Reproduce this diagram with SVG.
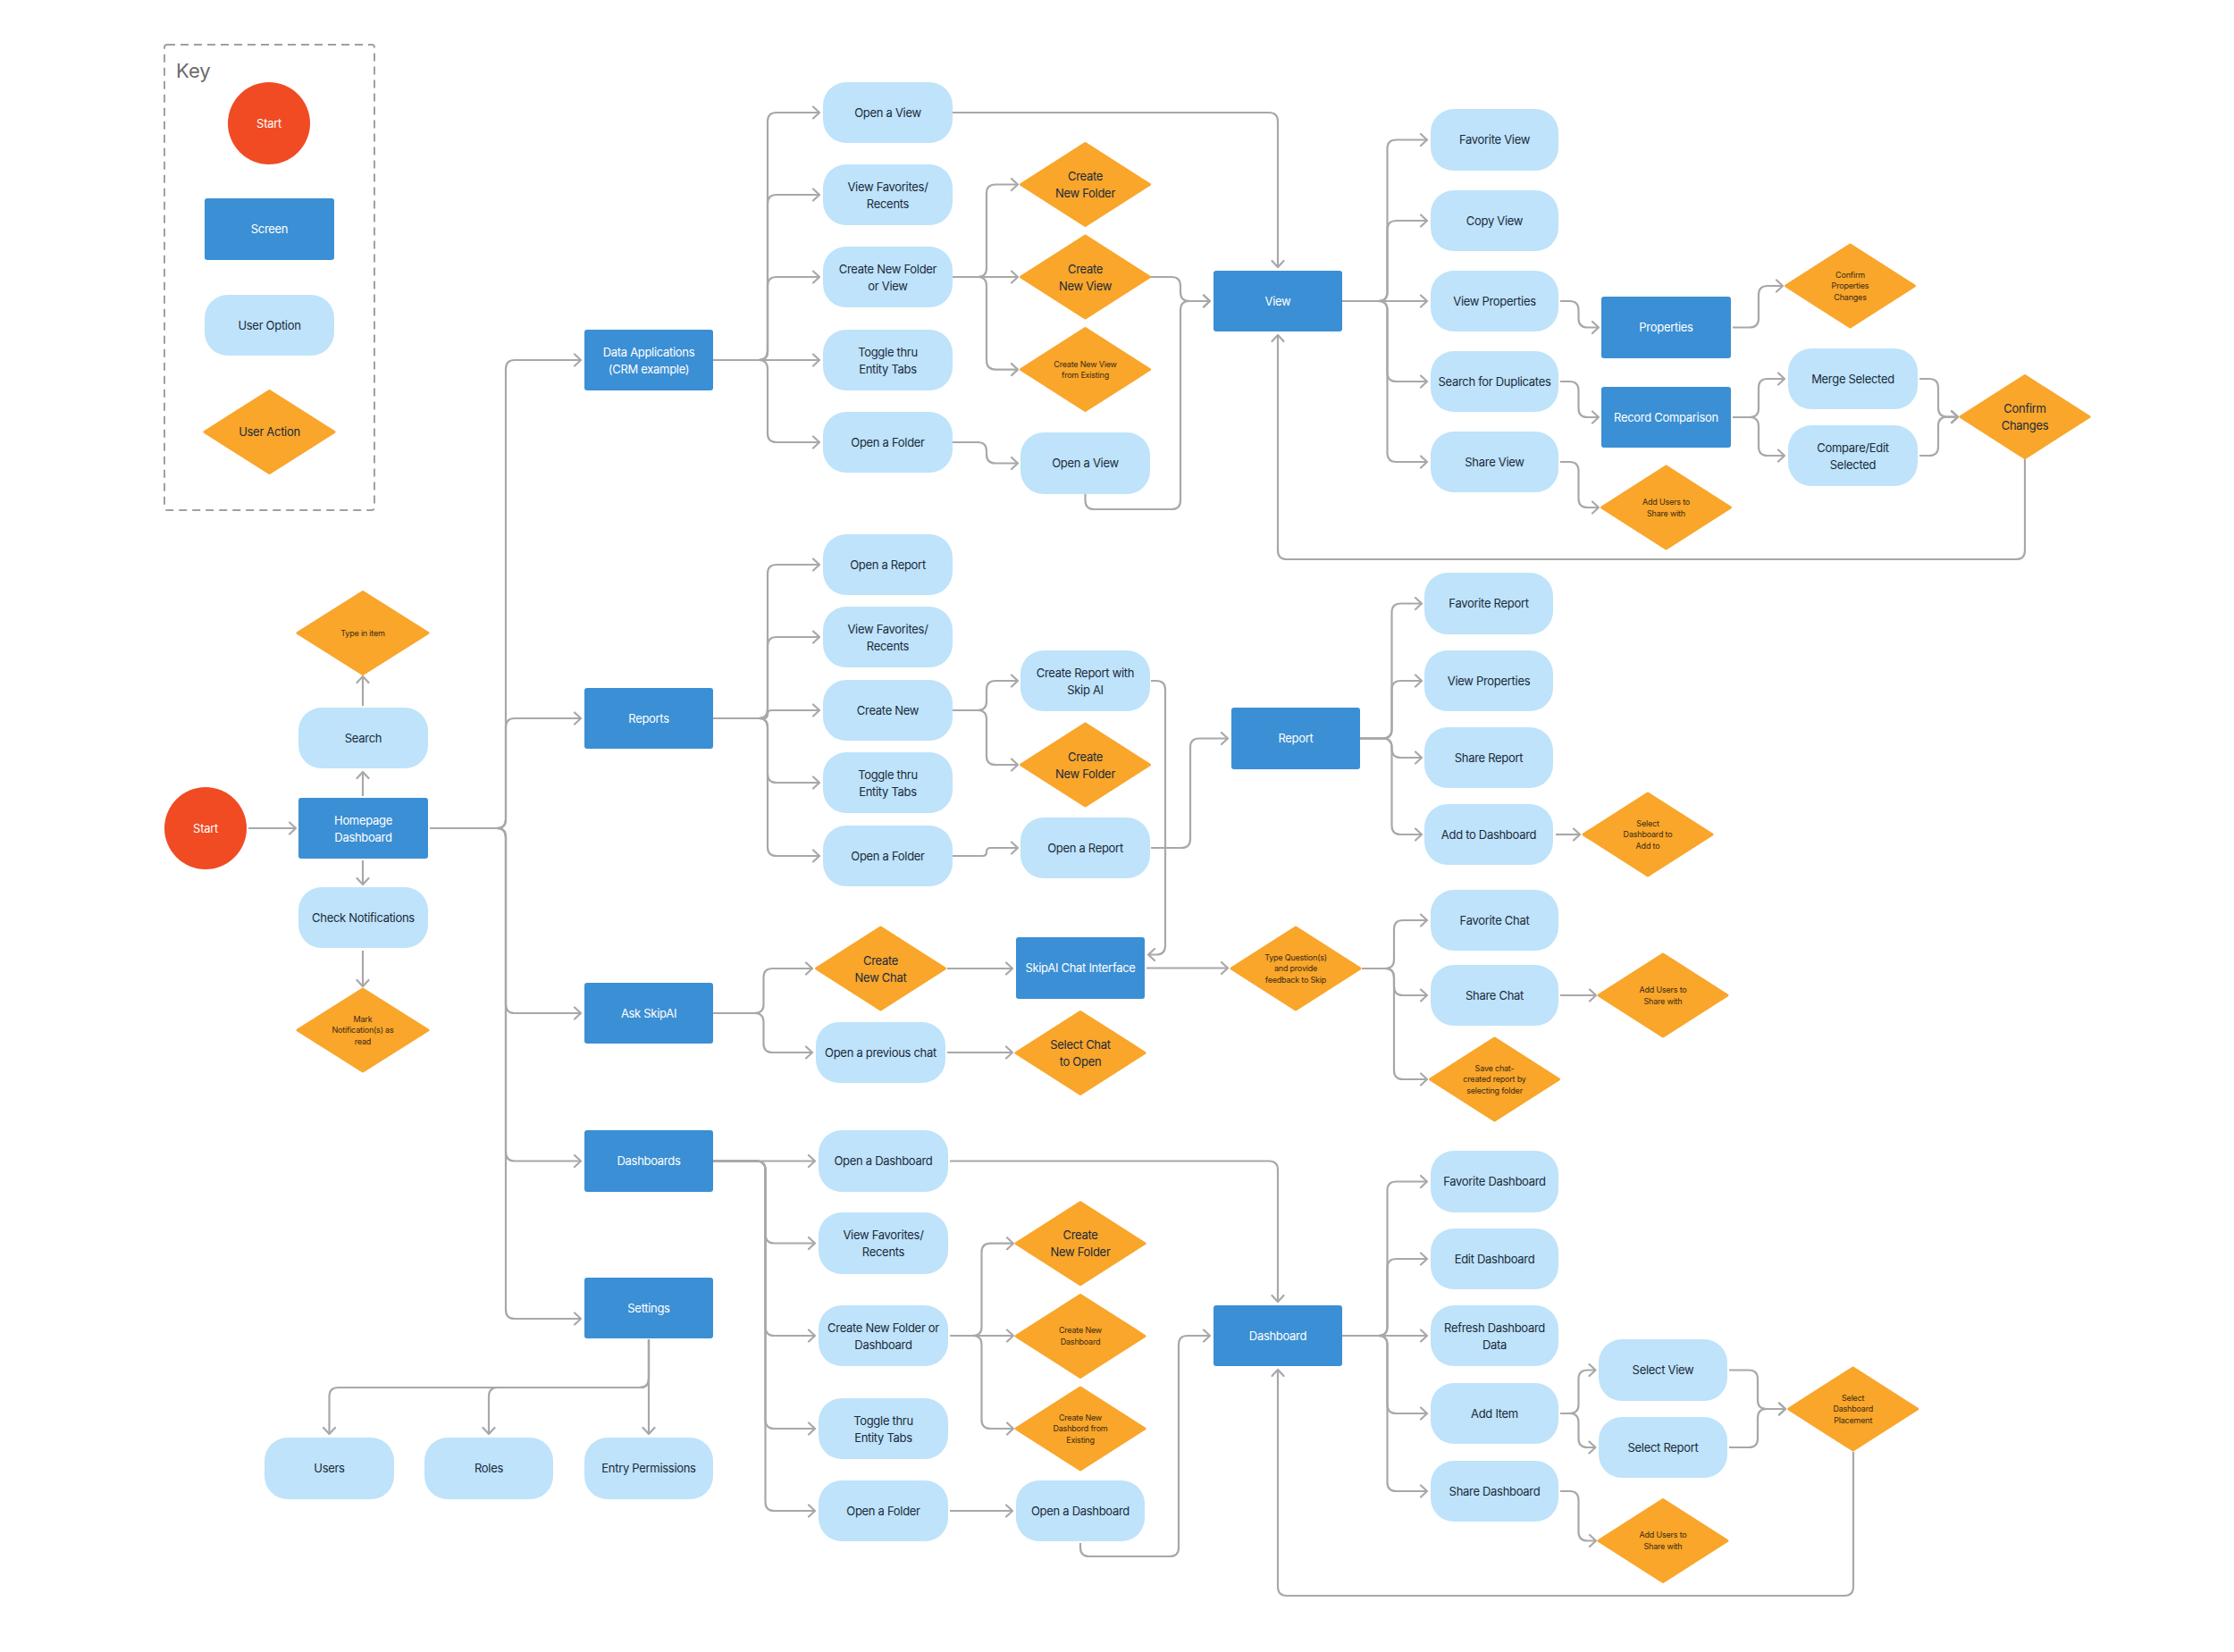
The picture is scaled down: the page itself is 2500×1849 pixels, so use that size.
<svg xmlns="http://www.w3.org/2000/svg" width="2500" height="1849" viewBox="0 0 2500 1849">
<defs>
<style>
.o{fill:#BEE3FA}
.s{fill:#3B8FD4}
.d{fill:#F9A62B;stroke:#F9A62B;stroke-width:3;stroke-linejoin:round}
.st{fill:#F04B23}
.t{font-family:Inter,"Noto Sans",sans-serif;font-size:13px;fill:#1B2A3A;text-anchor:middle;letter-spacing:-0.3px}
.tw{fill:#FFFFFF}
.ts{font-size:9px;letter-spacing:-0.2px;fill:#3A2A10}
.c{fill:none;stroke:#A8A8A8;stroke-width:2.2;marker-end:url(#a)}
</style>
<marker id="a" viewBox="-10 -8 12 16" refX="0" refY="0" markerWidth="12" markerHeight="16" markerUnits="userSpaceOnUse" orient="auto"><path d="M-7,-6.5 L0,0 L-7,6.5" fill="none" stroke="#A8A8A8" stroke-width="2.2" stroke-linecap="round" stroke-linejoin="round"/></marker>
</defs>
<rect width="2500" height="1849" fill="#FFFFFF"/>

<g id="key">
<rect x="184" y="50" width="235" height="521" rx="3" fill="none" stroke="#A0A0A0" stroke-width="2" stroke-dasharray="9 6"/>
<text x="197" y="87" style="font-family:Inter,'Noto Sans',sans-serif;font-size:22px;fill:#6B6B6B">Key</text>
<circle class="st" cx="301" cy="138" r="46"/><text class="t tw" x="301" y="142.5">Start</text>
<rect class="s" x="229" y="222" width="145" height="69" rx="3"/><text class="t tw" x="301.5" y="261">Screen</text>
<rect class="o" x="229" y="330" width="145" height="68" rx="26"/><text class="t" x="301.5" y="368.5">User Option</text>
<polygon class="d" points="229,483.5 301.5,437.5 374,483.5 301.5,529.5"/><text class="t" x="301.5" y="488">User Action</text>
</g>

<g id="connectors">
<path class="c" d="M278,927 H331"/>
<path class="c" d="M406,891 V864"/>
<path class="c" d="M406,790 V757"/>
<path class="c" d="M406,963 V990"/>
<path class="c" d="M406,1064 V1104"/>
<path class="c" d="M481,927 H556 Q566,927 566,917 V413 Q566,403 576,403 H650"/>
<path class="c" d="M481,927 H556 Q566,927 566,917 V814 Q566,804 576,804 H650"/>
<path class="c" d="M481,927 H556 Q566,927 566,937 V1124 Q566,1134 576,1134 H650"/>
<path class="c" d="M481,927 H556 Q566,927 566,937 V1289.5 Q566,1299.5 576,1299.5 H650"/>
<path class="c" d="M481,927 H556 Q566,927 566,937 V1466 Q566,1476 576,1476 H650"/>
<path class="c" d="M726,1499 V1605"/>
<path class="c" d="M726,1499 V1543 Q726,1553 716,1553 H378.5 Q368.5,1553 368.5,1563 V1605"/>
<path class="c" d="M726,1499 V1543 Q726,1553 716,1553 H557 Q547,1553 547,1563 V1605"/>

<path class="c" d="M798,403 H849 Q859,403 859,393 V136 Q859,126 869,126 H917"/>
<path class="c" d="M798,403 H849 Q859,403 859,393 V228 Q859,218 869,218 H917"/>
<path class="c" d="M798,403 H849 Q859,403 859,393 V320 Q859,310 869,310 H917"/>
<path class="c" d="M798,403 H917"/>
<path class="c" d="M798,403 H849 Q859,403 859,413 V485 Q859,495 869,495 H917"/>
<path class="c" d="M1066,310 H1094 Q1104,310 1104,300 V216.5 Q1104,206.5 1114,206.5 H1139"/>
<path class="c" d="M1066,310 H1139"/>
<path class="c" d="M1066,310 H1094 Q1104,310 1104,320 V403.6 Q1104,413.6 1114,413.6 H1139"/>
<path class="c" d="M1066,495 H1094 Q1104,495 1104,505 V508.5 Q1104,518.5 1114,518.5 H1139"/>
<path class="c" d="M1287,310 H1311 Q1321,310 1321,320 V327 Q1321,337 1331,337 H1354"/>
<path class="c" d="M1214.5,553 V560 Q1214.5,570 1224.5,570 H1311 Q1321,570 1321,560 V347 Q1321,337 1331,337 H1354"/>
<path class="c" d="M1066,126 H1420 Q1430,126 1430,136 V299"/>
<path class="c" d="M2266,513 V616 Q2266,626 2256,626 H1440 Q1430,626 1430,616 V375"/>
<path class="c" d="M1502,337 H1542.5 Q1552.5,337 1552.5,327 V166.5 Q1552.5,156.5 1562.5,156.5 H1597"/>
<path class="c" d="M1502,337 H1542.5 Q1552.5,337 1552.5,327 V257 Q1552.5,247 1562.5,247 H1597"/>
<path class="c" d="M1502,337 H1597"/>
<path class="c" d="M1502,337 H1542.5 Q1552.5,337 1552.5,347 V417 Q1552.5,427 1562.5,427 H1597"/>
<path class="c" d="M1502,337 H1542.5 Q1552.5,337 1552.5,347 V507 Q1552.5,517 1562.5,517 H1597"/>
<path class="c" d="M1746,337 H1756.5 Q1766.5,337 1766.5,347 V356.5 Q1766.5,366.5 1776.5,366.5 H1789"/>
<path class="c" d="M1746,427 H1756.5 Q1766.5,427 1766.5,437 V457 Q1766.5,467 1776.5,467 H1789"/>
<path class="c" d="M1746,517 H1756.5 Q1766.5,517 1766.5,527 V558 Q1766.5,568 1776.5,568 H1789"/>
<path class="c" d="M1939,366.5 H1958 Q1968,366.5 1968,356.5 V330 Q1968,320 1978,320 H1995"/>
<path class="c" d="M1939,467 H1958 Q1968,467 1968,457 V434 Q1968,424 1978,424 H1997"/>
<path class="c" d="M1939,467 H1958 Q1968,467 1968,477 V500 Q1968,510 1978,510 H1997"/>
<path class="c" d="M2148,424 H2159 Q2169,424 2169,434 V456.6 Q2169,466.6 2179,466.6 H2191"/>
<path class="c" d="M2148,510 H2159 Q2169,510 2169,500 V476.6 Q2169,466.6 2179,466.6 H2191"/>

<path class="c" d="M798,804 H849 Q859,804 859,794 V642 Q859,632 869,632 H917"/>
<path class="c" d="M798,804 H849 Q859,804 859,794 V723 Q859,713 869,713 H917"/>
<path class="c" d="M798,804 H854.5 Q859,804 859,799.5 Q859,795 863.5,795 H917"/>
<path class="c" d="M798,804 H849 Q859,804 859,814 V866 Q859,876 869,876 H917"/>
<path class="c" d="M798,804 H849 Q859,804 859,814 V948 Q859,958 869,958 H917"/>
<path class="c" d="M1066,795 H1094 Q1104,795 1104,785 V772 Q1104,762 1114,762 H1139"/>
<path class="c" d="M1066,795 H1094 Q1104,795 1104,805 V846 Q1104,856 1114,856 H1139"/>
<path class="c" d="M1066,958 H1099.5 Q1104,958 1104,953.5 Q1104,949 1108.5,949 H1139"/>
<path class="c" d="M1288,949 H1322 Q1332,949 1332,939 V836.5 Q1332,826.5 1342,826.5 H1374"/>
<path class="c" d="M1288,762 H1294 Q1304,762 1304,772 V1058.5 Q1304,1068.5 1294,1068.5 H1285"/>
<path class="c" d="M1522,826.5 H1547.5 Q1557.5,826.5 1557.5,816.5 V685.5 Q1557.5,675.5 1567.5,675.5 H1591"/>
<path class="c" d="M1522,826.5 H1547.5 Q1557.5,826.5 1557.5,816.5 V772 Q1557.5,762 1567.5,762 H1591"/>
<path class="c" d="M1522,826.5 H1547.5 Q1557.5,826.5 1557.5,836.5 V838 Q1557.5,848 1567.5,848 H1591"/>
<path class="c" d="M1522,826.5 H1547.5 Q1557.5,826.5 1557.5,836.5 V924 Q1557.5,934 1567.5,934 H1591"/>
<path class="c" d="M1741,934 H1768"/>

<path class="c" d="M798,1134 H844.5 Q854.5,1134 854.5,1124 V1094 Q854.5,1084 864.5,1084 H909"/>
<path class="c" d="M798,1134 H844.5 Q854.5,1134 854.5,1144 V1168 Q854.5,1178 864.5,1178 H909"/>
<path class="c" d="M1060,1084 H1133"/>
<path class="c" d="M1060,1178 H1133"/>
<path class="c" d="M1283,1083.5 H1374"/>
<path class="c" d="M1524,1084 H1550 Q1560,1084 1560,1074 V1040 Q1560,1030 1570,1030 H1597"/>
<path class="c" d="M1524,1084 H1550 Q1560,1084 1560,1094 V1104 Q1560,1114 1570,1114 H1597"/>
<path class="c" d="M1524,1084 H1550 Q1560,1084 1560,1094 V1198 Q1560,1208 1570,1208 H1597"/>
<path class="c" d="M1746,1114 H1786"/>

<path class="c" d="M798,1299.5 H912"/>
<path class="c" d="M798,1299.5 H846.5 Q856.5,1299.5 856.5,1309.5 V1381.5 Q856.5,1391.5 866.5,1391.5 H912"/>
<path class="c" d="M798,1299.5 H846.5 Q856.5,1299.5 856.5,1309.5 V1485 Q856.5,1495 866.5,1495 H912"/>
<path class="c" d="M798,1299.5 H846.5 Q856.5,1299.5 856.5,1309.5 V1589 Q856.5,1599 866.5,1599 H912"/>
<path class="c" d="M798,1299.5 H846.5 Q856.5,1299.5 856.5,1309.5 V1681 Q856.5,1691 866.5,1691 H912"/>
<path class="c" d="M1063,1495 H1088.5 Q1098.5,1495 1098.5,1485 V1401.7 Q1098.5,1391.7 1108.5,1391.7 H1134"/>
<path class="c" d="M1063,1495 H1134"/>
<path class="c" d="M1063,1495 H1088.5 Q1098.5,1495 1098.5,1505 V1589 Q1098.5,1599 1108.5,1599 H1134"/>
<path class="c" d="M1063,1691 H1133"/>
<path class="c" d="M1209,1727 V1732 Q1209,1742 1219,1742 H1309 Q1319,1742 1319,1732 V1505 Q1319,1495 1329,1495 H1354"/>
<path class="c" d="M1063,1299.5 H1420 Q1430,1299.5 1430,1309.5 V1457"/>
<path class="c" d="M1502,1495 H1542.5 Q1552.5,1495 1552.5,1485 V1332.5 Q1552.5,1322.5 1562.5,1322.5 H1597"/>
<path class="c" d="M1502,1495 H1542.5 Q1552.5,1495 1552.5,1485 V1419 Q1552.5,1409 1562.5,1409 H1597"/>
<path class="c" d="M1502,1495 H1597"/>
<path class="c" d="M1502,1495 H1542.5 Q1552.5,1495 1552.5,1505 V1572 Q1552.5,1582 1562.5,1582 H1597"/>
<path class="c" d="M1502,1495 H1542.5 Q1552.5,1495 1552.5,1505 V1659 Q1552.5,1669 1562.5,1669 H1597"/>
<path class="c" d="M1746,1582 H1756.5 Q1766.5,1582 1766.5,1572 V1543.5 Q1766.5,1533.5 1776.5,1533.5 H1785.5"/>
<path class="c" d="M1746,1582 H1756.5 Q1766.5,1582 1766.5,1592 V1610 Q1766.5,1620 1776.5,1620 H1785.5"/>
<path class="c" d="M1935,1533.5 H1957 Q1967,1533.5 1967,1543.5 V1567 Q1967,1577 1977,1577 H1998"/>
<path class="c" d="M1935,1620 H1957 Q1967,1620 1967,1610 V1587 Q1967,1577 1977,1577 H1998"/>
<path class="c" d="M1746,1669 H1756.5 Q1766.5,1669 1766.5,1679 V1714.5 Q1766.5,1724.5 1776.5,1724.5 H1786"/>
<path class="c" d="M2074,1625 V1776 Q2074,1786 2064,1786 H1440 Q1430,1786 1430,1776 V1533"/>
</g>

<g id="start"><circle class="st" cx="230" cy="927" r="46"/><text class="t tw" x="230" y="931.5">Start</text></g>
<g id="homepage"><rect class="s" x="334" y="893" width="145" height="68" rx="3"/><text class="t tw" x="406.5" y="922.5"><tspan x="406.5">Homepage</tspan><tspan x="406.5" dy="19">Dashboard</tspan></text></g>
<g id="search"><rect class="o" x="334" y="792" width="145" height="68" rx="26"/><text class="t" x="406.5" y="830.5">Search</text></g>
<g id="type-in-item"><polygon class="d" points="333,708.5 406,662.5 479,708.5 406,754.5"/><text class="t ts" x="406" y="711.7">Type in item</text></g>
<g id="check-notifications"><rect class="o" x="334" y="993" width="145" height="68" rx="26"/><text class="t" x="406.5" y="1031.5">Check Notifications</text></g>
<g id="mark-read"><polygon class="d" points="333,1153 406,1107 479,1153 406,1199"/><text class="t ts" x="406" y="1143.6"><tspan x="406">Mark</tspan><tspan x="406" dy="12.6">Notification(s) as</tspan><tspan x="406" dy="12.6">read</tspan></text></g>

<g id="data-applications"><rect class="s" x="654" y="369" width="144" height="68" rx="3"/><text class="t tw" x="726" y="398.5"><tspan x="726">Data Applications</tspan><tspan x="726" dy="19">(CRM example)</tspan></text></g>
<g id="reports"><rect class="s" x="654" y="770" width="144" height="68" rx="3"/><text class="t tw" x="726" y="808.5">Reports</text></g>
<g id="ask-skipai"><rect class="s" x="654" y="1100" width="144" height="68" rx="3"/><text class="t tw" x="726" y="1138.5">Ask SkipAI</text></g>
<g id="dashboards"><rect class="s" x="654" y="1265" width="144" height="69" rx="3"/><text class="t tw" x="726" y="1304">Dashboards</text></g>
<g id="settings"><rect class="s" x="654" y="1430" width="144" height="68" rx="3"/><text class="t tw" x="726" y="1468.5">Settings</text></g>
<g id="users"><rect class="o" x="296" y="1609" width="145" height="69" rx="26"/><text class="t" x="368.5" y="1648">Users</text></g>
<g id="roles"><rect class="o" x="475" y="1609" width="144" height="69" rx="26"/><text class="t" x="547" y="1648">Roles</text></g>
<g id="entry-permissions"><rect class="o" x="654" y="1609" width="144" height="69" rx="26"/><text class="t" x="726" y="1648">Entry Permissions</text></g>

<g id="da-open-view"><rect class="o" x="921" y="92" width="145" height="68" rx="26"/><text class="t" x="993.5" y="130.5">Open a View</text></g>
<g id="da-favorites"><rect class="o" x="921" y="184" width="145" height="68" rx="26"/><text class="t" x="993.5" y="213.5"><tspan x="993.5">View Favorites/</tspan><tspan x="993.5" dy="19">Recents</tspan></text></g>
<g id="da-create"><rect class="o" x="921" y="276" width="145" height="68" rx="26"/><text class="t" x="993.5" y="305.5"><tspan x="993.5">Create New Folder</tspan><tspan x="993.5" dy="19">or View</tspan></text></g>
<g id="da-toggle"><rect class="o" x="921" y="369" width="145" height="68" rx="26"/><text class="t" x="993.5" y="398.5"><tspan x="993.5">Toggle thru</tspan><tspan x="993.5" dy="19">Entity Tabs</tspan></text></g>
<g id="da-open-folder"><rect class="o" x="921" y="461" width="145" height="68" rx="26"/><text class="t" x="993.5" y="499.5">Open a Folder</text></g>
<g id="da-new-folder"><polygon class="d" points="1142.5,206.5 1214.5,160.5 1286.5,206.5 1214.5,252.5"/><text class="t" x="1214.5" y="202"><tspan x="1214.5">Create</tspan><tspan x="1214.5" dy="19">New Folder</tspan></text></g>
<g id="da-new-view"><polygon class="d" points="1142.5,310 1214.5,264 1286.5,310 1214.5,356"/><text class="t" x="1214.5" y="305.5"><tspan x="1214.5">Create</tspan><tspan x="1214.5" dy="19">New View</tspan></text></g>
<g id="da-new-view-existing"><polygon class="d" points="1142.5,413.6 1214.5,367.6 1286.5,413.6 1214.5,459.6"/><text class="t ts" x="1214.5" y="410.5"><tspan x="1214.5">Create New View</tspan><tspan x="1214.5" dy="12.6">from Existing</tspan></text></g>
<g id="da-open-view-2"><rect class="o" x="1142" y="484" width="145" height="69" rx="26"/><text class="t" x="1214.5" y="523">Open a View</text></g>
<g id="view"><rect class="s" x="1358" y="303" width="144" height="68" rx="3"/><text class="t tw" x="1430" y="341.5">View</text></g>

<g id="favorite-view"><rect class="o" x="1601" y="122" width="143" height="69" rx="26"/><text class="t" x="1672.5" y="161">Favorite View</text></g>
<g id="copy-view"><rect class="o" x="1601" y="213" width="143" height="68" rx="26"/><text class="t" x="1672.5" y="251.5">Copy View</text></g>
<g id="view-properties"><rect class="o" x="1601" y="303" width="143" height="68" rx="26"/><text class="t" x="1672.5" y="341.5">View Properties</text></g>
<g id="search-duplicates"><rect class="o" x="1601" y="393" width="143" height="68" rx="26"/><text class="t" x="1672.5" y="431.5">Search for Duplicates</text></g>
<g id="share-view"><rect class="o" x="1601" y="483" width="143" height="68" rx="26"/><text class="t" x="1672.5" y="521.5">Share View</text></g>
<g id="properties"><rect class="s" x="1792" y="332" width="145" height="69" rx="3"/><text class="t tw" x="1864.5" y="371">Properties</text></g>
<g id="record-comparison"><rect class="s" x="1792" y="433" width="145" height="68" rx="3"/><text class="t tw" x="1864.5" y="471.5">Record Comparison</text></g>
<g id="confirm-properties"><polygon class="d" points="1998.5,320 2070.5,274 2142.5,320 2070.5,366"/><text class="t ts" x="2070.5" y="310.6"><tspan x="2070.5">Confirm</tspan><tspan x="2070.5" dy="12.6">Properties</tspan><tspan x="2070.5" dy="12.6">Changes</tspan></text></g>
<g id="merge-selected"><rect class="o" x="2001" y="390" width="145" height="68" rx="26"/><text class="t" x="2073.5" y="428.5">Merge Selected</text></g>
<g id="compare-edit"><rect class="o" x="2001" y="476" width="145" height="68" rx="26"/><text class="t" x="2073.5" y="505.5"><tspan x="2073.5">Compare/Edit</tspan><tspan x="2073.5" dy="19">Selected</tspan></text></g>
<g id="confirm-changes"><polygon class="d" points="2194,466.6 2266,420.6 2338,466.6 2266,512.6"/><text class="t" x="2266" y="462"><tspan x="2266">Confirm</tspan><tspan x="2266" dy="19">Changes</tspan></text></g>
<g id="view-add-users"><polygon class="d" points="1792.5,568 1864.5,522 1936.5,568 1864.5,614"/><text class="t ts" x="1864.5" y="564.9"><tspan x="1864.5">Add Users to</tspan><tspan x="1864.5" dy="12.6">Share with</tspan></text></g>

<g id="rp-open-report"><rect class="o" x="921" y="598" width="145" height="68" rx="26"/><text class="t" x="993.5" y="636.5">Open a Report</text></g>
<g id="rp-favorites"><rect class="o" x="921" y="679" width="145" height="68" rx="26"/><text class="t" x="993.5" y="708.5"><tspan x="993.5">View Favorites/</tspan><tspan x="993.5" dy="19">Recents</tspan></text></g>
<g id="rp-create-new"><rect class="o" x="921" y="761" width="145" height="68" rx="26"/><text class="t" x="993.5" y="799.5">Create New</text></g>
<g id="rp-toggle"><rect class="o" x="921" y="842" width="145" height="68" rx="26"/><text class="t" x="993.5" y="871.5"><tspan x="993.5">Toggle thru</tspan><tspan x="993.5" dy="19">Entity Tabs</tspan></text></g>
<g id="rp-open-folder"><rect class="o" x="921" y="924" width="145" height="68" rx="26"/><text class="t" x="993.5" y="962.5">Open a Folder</text></g>
<g id="rp-skip-ai"><rect class="o" x="1142" y="728" width="145" height="68" rx="26"/><text class="t" x="1214.5" y="757.5"><tspan x="1214.5">Create Report with</tspan><tspan x="1214.5" dy="19">Skip AI</tspan></text></g>
<g id="rp-new-folder"><polygon class="d" points="1142.5,856 1214.5,810 1286.5,856 1214.5,902"/><text class="t" x="1214.5" y="851.5"><tspan x="1214.5">Create</tspan><tspan x="1214.5" dy="19">New Folder</tspan></text></g>
<g id="rp-open-report-2"><rect class="o" x="1142" y="915" width="145" height="68" rx="26"/><text class="t" x="1214.5" y="953.5">Open a Report</text></g>
<g id="report"><rect class="s" x="1378" y="792" width="144" height="69" rx="3"/><text class="t tw" x="1450" y="831">Report</text></g>
<g id="favorite-report"><rect class="o" x="1594" y="641" width="144" height="69" rx="26"/><text class="t" x="1666" y="680">Favorite Report</text></g>
<g id="report-properties"><rect class="o" x="1594" y="728" width="144" height="68" rx="26"/><text class="t" x="1666" y="766.5">View Properties</text></g>
<g id="share-report"><rect class="o" x="1594" y="814" width="144" height="68" rx="26"/><text class="t" x="1666" y="852.5">Share Report</text></g>
<g id="add-to-dashboard"><rect class="o" x="1594" y="900" width="144" height="68" rx="26"/><text class="t" x="1666" y="938.5">Add to Dashboard</text></g>
<g id="select-dashboard-add"><polygon class="d" points="1772,934 1844,888 1916,934 1844,980"/><text class="t ts" x="1844" y="924.6"><tspan x="1844">Select</tspan><tspan x="1844" dy="12.6">Dashboard to</tspan><tspan x="1844" dy="12.6">Add to</tspan></text></g>

<g id="create-new-chat"><polygon class="d" points="913.5,1084 985.5,1038 1057.5,1084 985.5,1130"/><text class="t" x="985.5" y="1079.5"><tspan x="985.5">Create</tspan><tspan x="985.5" dy="19">New Chat</tspan></text></g>
<g id="open-previous-chat"><rect class="o" x="913" y="1144" width="145" height="68" rx="26"/><text class="t" x="985.5" y="1182.5">Open a previous chat</text></g>
<g id="skipai-chat"><rect class="s" x="1137" y="1049" width="144" height="69" rx="3"/><text class="t tw" x="1209" y="1088">SkipAI Chat Interface</text></g>
<g id="select-chat"><polygon class="d" points="1137,1178.4 1209,1132.4 1281,1178.4 1209,1224.4"/><text class="t" x="1209" y="1173.9"><tspan x="1209">Select Chat</tspan><tspan x="1209" dy="19">to Open</tspan></text></g>
<g id="type-question"><polygon class="d" points="1378,1084 1450,1038 1522,1084 1450,1130"/><text class="t ts" x="1450" y="1074.6"><tspan x="1450">Type Question(s)</tspan><tspan x="1450" dy="12.6">and provide</tspan><tspan x="1450" dy="12.6">feedback to Skip</tspan></text></g>
<g id="favorite-chat"><rect class="o" x="1601" y="996" width="143" height="68" rx="26"/><text class="t" x="1672.5" y="1034.5">Favorite Chat</text></g>
<g id="share-chat"><rect class="o" x="1601" y="1080" width="143" height="68" rx="26"/><text class="t" x="1672.5" y="1118.5">Share Chat</text></g>
<g id="save-chat-report"><polygon class="d" points="1600.5,1208 1672.5,1162 1744.5,1208 1672.5,1254"/><text class="t ts" x="1672.5" y="1198.6"><tspan x="1672.5">Save chat-</tspan><tspan x="1672.5" dy="12.6">created report by</tspan><tspan x="1672.5" dy="12.6">selecting folder</tspan></text></g>
<g id="chat-add-users"><polygon class="d" points="1789,1114 1861,1068 1933,1114 1861,1160"/><text class="t ts" x="1861" y="1110.9"><tspan x="1861">Add Users to</tspan><tspan x="1861" dy="12.6">Share with</tspan></text></g>

<g id="db-open-dashboard"><rect class="o" x="916" y="1265" width="145" height="69" rx="26"/><text class="t" x="988.5" y="1304">Open a Dashboard</text></g>
<g id="db-favorites"><rect class="o" x="916" y="1357" width="145" height="69" rx="26"/><text class="t" x="988.5" y="1387"><tspan x="988.5">View Favorites/</tspan><tspan x="988.5" dy="19">Recents</tspan></text></g>
<g id="db-create"><rect class="o" x="916" y="1461" width="145" height="68" rx="26"/><text class="t" x="988.5" y="1490.5"><tspan x="988.5">Create New Folder or</tspan><tspan x="988.5" dy="19">Dashboard</tspan></text></g>
<g id="db-toggle"><rect class="o" x="916" y="1565" width="145" height="68" rx="26"/><text class="t" x="988.5" y="1594.5"><tspan x="988.5">Toggle thru</tspan><tspan x="988.5" dy="19">Entity Tabs</tspan></text></g>
<g id="db-open-folder"><rect class="o" x="916" y="1657" width="145" height="68" rx="26"/><text class="t" x="988.5" y="1695.5">Open a Folder</text></g>
<g id="db-new-folder"><polygon class="d" points="1137,1391.7 1209,1345.7 1281,1391.7 1209,1437.7"/><text class="t" x="1209" y="1387.2"><tspan x="1209">Create</tspan><tspan x="1209" dy="19">New Folder</tspan></text></g>
<g id="db-new-dashboard"><polygon class="d" points="1137,1495.4 1209,1449.4 1281,1495.4 1209,1541.4"/><text class="t ts" x="1209" y="1492.3"><tspan x="1209">Create New</tspan><tspan x="1209" dy="12.6">Dashboard</tspan></text></g>
<g id="db-new-existing"><polygon class="d" points="1137,1599 1209,1553 1281,1599 1209,1645"/><text class="t ts" x="1209" y="1589.6"><tspan x="1209">Create New</tspan><tspan x="1209" dy="12.6">Dashbord from</tspan><tspan x="1209" dy="12.6">Existing</tspan></text></g>
<g id="db-open-dashboard-2"><rect class="o" x="1137" y="1657" width="144" height="68" rx="26"/><text class="t" x="1209" y="1695.5">Open a Dashboard</text></g>
<g id="dashboard"><rect class="s" x="1358" y="1461" width="144" height="68" rx="3"/><text class="t tw" x="1430" y="1499.5">Dashboard</text></g>
<g id="favorite-dashboard"><rect class="o" x="1601" y="1288" width="143" height="69" rx="26"/><text class="t" x="1672.5" y="1327">Favorite Dashboard</text></g>
<g id="edit-dashboard"><rect class="o" x="1601" y="1375" width="143" height="68" rx="26"/><text class="t" x="1672.5" y="1413.5">Edit Dashboard</text></g>
<g id="refresh-dashboard"><rect class="o" x="1601" y="1461" width="143" height="68" rx="26"/><text class="t" x="1672.5" y="1490.5"><tspan x="1672.5">Refresh Dashboard</tspan><tspan x="1672.5" dy="19">Data</tspan></text></g>
<g id="add-item"><rect class="o" x="1601" y="1548" width="143" height="68" rx="26"/><text class="t" x="1672.5" y="1586.5">Add Item</text></g>
<g id="share-dashboard"><rect class="o" x="1601" y="1635" width="143" height="68" rx="26"/><text class="t" x="1672.5" y="1673.5">Share Dashboard</text></g>
<g id="select-view"><rect class="o" x="1789" y="1499" width="144" height="69" rx="26"/><text class="t" x="1861" y="1538">Select View</text></g>
<g id="select-report"><rect class="o" x="1789" y="1586" width="144" height="68" rx="26"/><text class="t" x="1861" y="1624.5">Select Report</text></g>
<g id="select-placement"><polygon class="d" points="2001.7,1577 2073.7,1531 2145.7,1577 2073.7,1623"/><text class="t ts" x="2073.7" y="1567.6"><tspan x="2073.7">Select</tspan><tspan x="2073.7" dy="12.6">Dashboard</tspan><tspan x="2073.7" dy="12.6">Placement</tspan></text></g>
<g id="dashboard-add-users"><polygon class="d" points="1789,1724.5 1861,1678.5 1933,1724.5 1861,1770.5"/><text class="t ts" x="1861" y="1721.4"><tspan x="1861">Add Users to</tspan><tspan x="1861" dy="12.6">Share with</tspan></text></g>
</svg>
